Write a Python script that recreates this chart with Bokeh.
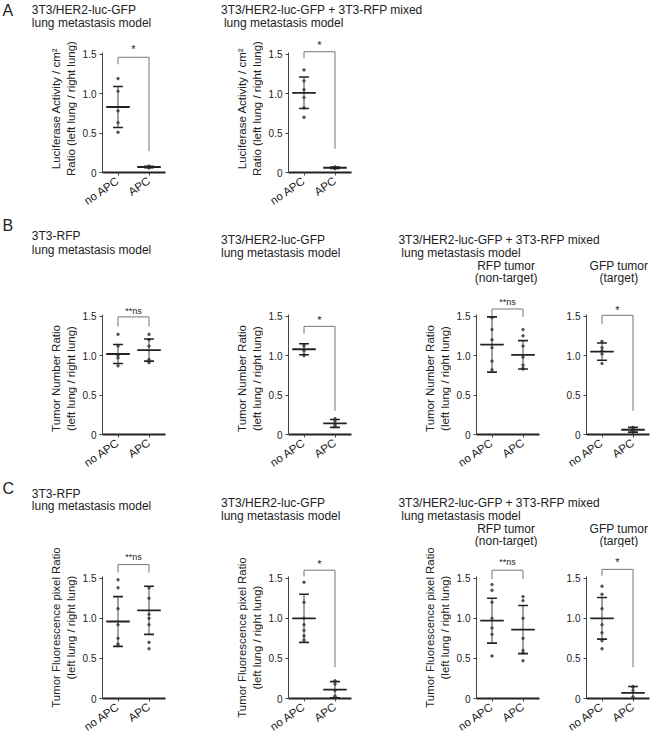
import math
from bokeh.plotting import figure
from bokeh.layouts import column, row
from bokeh.models import Range1d, FixedTicker, LinearAxis
from bokeh.embed import file_html
from bokeh.resources import INLINE
from bokeh.core.properties import value

FONT = "Liberation Sans"
INK = "#222222"

# ---------------- data ----------------
groups = ["no APC", "APC"]
y_ticks = [0, 0.5, 1.0, 1.5]
y_tick_labels = ["0", "0.5", "1.0", "1.5"]

# A: luciferase activity ratio
A_her2_noapc = [1.19, 1.03, 0.78, 0.63, 0.51]
A_her2_apc = [0.08, 0.07, 0.07, 0.06, 0.06]
A_her2_mean = [0.83, 0.07]
A_her2_sd = [0.26, 0.01]
A_her2_bracket = [1.46, 1.37, 0.27, 1.56]

A_mixed_noapc = [1.30, 1.16, 1.05, 0.95, 0.82, 0.70]
A_mixed_apc = [0.07, 0.06, 0.06, 0.05, 0.05]
A_mixed_mean = [1.01, 0.06]
A_mixed_sd = [0.20, 0.01]
A_mixed_bracket = [1.53, 1.45, 0.30, 1.61]

# B: tumor number ratio
B_rfp_noapc = [1.27, 1.12, 1.00, 0.97, 0.87]
B_rfp_apc = [1.27, 1.20, 1.12, 0.95, 0.92, 0.91]
B_rfp_mean = [1.02, 1.07]
B_rfp_sd = [0.12, 0.14]
B_rfp_bracket = [1.49, 1.37, 1.37, 1.57]

B_her2_noapc = [1.14, 1.12, 1.06, 1.01, 1.00]
B_her2_apc = [0.20, 0.17, 0.12, 0.10]
B_her2_mean = [1.08, 0.14]
B_her2_sd = [0.07, 0.05]
B_her2_bracket = [1.37, 1.28, 0.30, 1.45]

B_mixrfp_noapc = [1.48, 1.33, 1.20, 1.10, 0.93, 0.82]
B_mixrfp_apc = [1.33, 1.25, 1.12, 0.98, 0.88, 0.84, 0.83]
B_mixrfp_mean = [1.14, 1.01]
B_mixrfp_sd = [0.35, 0.18]
B_mixrfp_bracket = [1.59, 1.50, 1.49, 1.68]

B_mixgfp_noapc = [1.18, 1.10, 1.06, 1.02, 0.90]
B_mixgfp_apc = [0.09, 0.07, 0.05, 0.03]
B_mixgfp_mean = [1.05, 0.06]
B_mixgfp_sd = [0.11, 0.03]
B_mixgfp_bracket = [1.51, 1.40, 0.30, 1.58]

# C: tumor fluorescence pixel ratio
C_rfp_noapc = [1.48, 1.38, 1.12, 0.92, 0.75, 0.68, 0.66]
C_rfp_apc = [1.38, 1.25, 1.05, 1.00, 0.92, 0.70, 0.62]
C_rfp_mean = [0.96, 1.10]
C_rfp_sd = [0.31, 0.30]
C_rfp_bracket = [1.67, 1.57, 1.57, 1.76]

C_her2_noapc = [1.45, 1.20, 1.00, 0.92, 0.85, 0.78, 0.73]
C_her2_apc = [0.22, 0.18, 0.10, 0.03, 0.02]
C_her2_mean = [1.00, 0.11]
C_her2_sd = [0.30, 0.10]
C_her2_bracket = [1.60, 1.52, 0.39, 1.68]

C_mixrfp_noapc = [1.42, 1.35, 1.20, 1.00, 0.88, 0.80, 0.53]
C_mixrfp_apc = [1.27, 1.22, 1.00, 0.75, 0.60, 0.57, 0.47]
C_mixrfp_mean = [0.97, 0.86]
C_mixrfp_sd = [0.28, 0.30]
C_mixrfp_bracket = [1.60, 1.49, 1.49, 1.70]

C_mixgfp_noapc = [1.40, 1.30, 1.12, 0.92, 0.82, 0.72, 0.62]
C_mixgfp_apc = [0.15, 0.14, 0.10, 0.02, 0.00]
C_mixgfp_mean = [1.00, 0.07]
C_mixgfp_sd = [0.26, 0.08]
C_mixgfp_bracket = [1.61, 1.53, 0.39, 1.70]

# ---------------- geometry ----------------
SX, X0, SY = 0.98, 3, 0.978
def gx(x):
    return min(650, max(0, round((x - X0) * SX)))
def gy(y):
    return round(y * SY)

BANDS = {
    "A": dict(strip=(0, 32), plot=(32, 216), frame_top=36, base=176, ppu=80.7),
    "B": dict(strip=(216, 288), plot=(288, 474), frame_top=292, base=440, ppu=80.7),
    "C": dict(strip=(474, 548), plot=(548, 740), frame_top=549, base=702, ppu=82.0),
}
COLS = [(0, 178, 107), (178, 370, 297), (370, 560, 489), (560, 666, 601)]
FW = 63
PPX = 31.0
XR0 = 0.5
TICK_BORDER = 25
LFW = 1
LINE_GAP = 14


def bare(width, height):
    p = figure(width=width, height=height, x_range=Range1d(0, width),
               y_range=Range1d(0, height), x_axis_location=None, y_axis_location=None,
               toolbar_location=None, output_backend="svg", min_border=0,
               outline_line_color=None)
    p.xgrid.visible = False
    p.ygrid.visible = False
    return p


def make_strip(band, texts):
    t, b = BANDS[band]["strip"]
    top, bot = gy(t), gy(b)
    h = bot - top
    p = bare(650, h)
    for txt, x, y, size, align in texts:
        p.text(x=[(x - X0) * SX], y=[h - (y * SY - top)], text=[txt],
               text_font=value(FONT), text_font_size=size, text_align=align,
               text_baseline="middle", text_color=INK)
    return p


def title_axis(text, standoff, size):
    return LinearAxis(ticker=FixedTicker(ticks=[0.5]), major_label_overrides={0.5: ""},
                      major_label_text_font_size="0px", axis_label=text,
                      axis_line_color=None, major_tick_line_color=None,
                      minor_tick_line_color=None, major_tick_out=0, major_tick_in=0,
                      major_label_standoff=0, axis_label_standoff=max(0, round(standoff)),
                      axis_label_text_font=FONT, axis_label_text_font_size=size,
                      axis_label_text_font_style="normal", axis_label_text_color=INK)


def make_label_fig(lw, ph, yc_top, lines, offs, size):
    yc_top = round(yc_top)
    h = min(yc_top, ph - yc_top) - 1
    p = figure(frame_width=LFW, frame_height=2 * h, min_border_left=lw - LFW,
               min_border_right=0, min_border_top=yc_top - h,
               min_border_bottom=ph - yc_top - h, x_axis_location=None,
               y_axis_location=None, x_range=Range1d(0, 1), y_range=Range1d(0, 1),
               toolbar_location=None, output_backend="svg", outline_line_color=None)
    p.xgrid.visible = False
    p.ygrid.visible = False
    d2 = -(TICK_BORDER + LFW) - offs[1] * SX
    p.add_layout(title_axis(lines[1], d2 - LINE_GAP, size), "left")
    p.add_layout(title_axis(lines[0], 0, size), "left")
    return p


def make_panel(col, band, noapc, apc, means, sds, brk, sig, ylabel=None, ylab_c=0.9,
               ylab_off=(-52, -38), ylab_size="11.5px"):
    fl_ref, fr_ref, ax_ref = COLS[col]
    b = BANDS[band]
    fl, fr, L = gx(fl_ref), gx(fr_ref), gx(ax_ref)
    pt, pb = gy(b["plot"][0]), gy(b["plot"][1])
    ft, base = gy(b["frame_top"]), gy(b["base"])
    fh = base - ft
    ph = pb - pt
    ppu = b["ppu"] * SY

    figs = []
    plot_left = fl
    if ylabel is not None:
        plot_left = L - TICK_BORDER
        yc_top = (base - pt) - ylab_c * ppu
        figs.append(make_label_fig(plot_left - fl, ph, yc_top, ylabel, ylab_off, ylab_size))

    p = figure(frame_width=FW, frame_height=fh,
               min_border_left=L - plot_left, min_border_right=fr - (L + FW),
               min_border_top=ft - pt, min_border_bottom=pb - base,
               x_range=Range1d(XR0, XR0 + FW / PPX), y_range=Range1d(0, fh / ppu),
               toolbar_location=None, output_backend="svg", outline_line_color=None)
    p.xgrid.visible = False
    p.ygrid.visible = False

    # axes
    p.yaxis.ticker = FixedTicker(ticks=y_ticks)
    p.yaxis.major_label_overrides = dict(zip(y_ticks, y_tick_labels))
    p.yaxis.bounds = (0, 1.52)
    p.yaxis.axis_line_color = "#444444"
    p.yaxis.axis_line_width = 1
    p.yaxis.major_tick_line_color = "#444444"
    p.yaxis.major_tick_out = 3
    p.yaxis.major_tick_in = 0
    p.yaxis.minor_tick_line_color = None
    p.yaxis.major_label_text_font = FONT
    p.yaxis.major_label_text_font_size = "10px"
    p.yaxis.major_label_text_color = INK
    p.yaxis.major_label_standoff = 3

    p.xaxis.ticker = FixedTicker(ticks=[1, 2])
    p.xaxis.major_label_overrides = {1: groups[0], 2: groups[1]}
    p.xaxis.major_label_orientation = 0.6
    p.xaxis.axis_line_color = "#222222"
    p.xaxis.axis_line_width = 2
    p.xaxis.major_tick_line_color = "#444444"
    p.xaxis.major_tick_out = 3
    p.xaxis.major_tick_in = 0
    p.xaxis.minor_tick_line_color = None
    p.xaxis.major_label_text_font = FONT
    p.xaxis.major_label_text_font_size = "11.5px"
    p.xaxis.major_label_text_color = INK
    p.xaxis.major_label_standoff = 4

    # individual points
    xs = [1] * len(noapc) + [2] * len(apc)
    ys = list(noapc) + list(apc)
    p.scatter(xs, ys, size=2.5, color="#555555")

    # mean and SD
    gxs = [1, 2]
    lo = [m - s for m, s in zip(means, sds)]
    hi = [m + s for m, s in zip(means, sds)]
    p.segment(x0=gxs, y0=lo, x1=gxs, y1=hi, line_color="#444444", line_width=1)
    p.segment(x0=[g - 0.16 for g in gxs] * 2, y0=hi + lo,
              x1=[g + 0.16 for g in gxs] * 2, y1=hi + lo,
              line_color=INK, line_width=1.6)
    p.segment(x0=[g - 0.38 for g in gxs], y0=means, x1=[g + 0.38 for g in gxs], y1=means,
              line_color=INK, line_width=1.8)

    # significance bracket
    top, lb, rb, ty = brk
    p.line([1, 1, 2, 2], [lb, top, top, rb], line_color="#777777", line_width=1)
    p.text(x=[1.5], y=[ty], text=[sig], text_font=value(FONT),
           text_font_size="11px" if sig == "*" else "9px",
           text_align="center", text_baseline="middle", text_color=INK)
    figs.append(p)
    return figs


LUC = ["Luciferase Activity / cm\u00b2", "Ratio (left lung / right lung)"]
NUM = ["Tumor Number Ratio", "(left lung / right lung)"]
FLU = ["Tumor Fluorescence pixel Ratio", "(left lung / right lung)"]
OFF1 = (-51, -37)
OFF2 = (-55, -41)
OFF3 = (-53, -39)

T = "12px"
stripA = make_strip("A", [
    ("A", 5, 10, "16px", "left"),
    ("3T3/HER2-luc-GFP", 35, 10, T, "left"),
    ("lung metastasis model", 35, 23, T, "left"),
    ("3T3/HER2-luc-GFP + 3T3-RFP mixed", 228, 10, T, "left"),
    ("lung metastasis model", 231, 23, T, "left"),
])
stripB = make_strip("B", [
    ("B", 5, 227, "16px", "left"),
    ("3T3-RFP", 35, 238, T, "left"),
    ("lung metastasis model", 35, 252, T, "left"),
    ("3T3/HER2-luc-GFP", 228, 242, T, "left"),
    ("lung metastasis model", 228, 255, T, "left"),
    ("3T3/HER2-luc-GFP + 3T3-RFP mixed", 409, 242, T, "left"),
    ("lung metastasis model", 412, 255, T, "left"),
    ("RFP tumor", 519, 268, T, "center"),
    ("(non-target)", 519, 281, T, "center"),
    ("GFP tumor", 634, 268, T, "center"),
    ("(target)", 634, 281, T, "center"),
])
stripC = make_strip("C", [
    ("C", 5, 488, "16px", "left"),
    ("3T3-RFP", 35, 493, T, "left"),
    ("lung metastasis model", 35, 506, T, "left"),
    ("3T3/HER2-luc-GFP", 228, 503, T, "left"),
    ("lung metastasis model", 228, 516, T, "left"),
    ("3T3/HER2-luc-GFP + 3T3-RFP mixed", 409, 503, T, "left"),
    ("lung metastasis model", 412, 516, T, "left"),
    ("RFP tumor", 519, 529, T, "center"),
    ("(non-target)", 519, 541, T, "center"),
    ("GFP tumor", 634, 529, T, "center"),
    ("(target)", 634, 541, T, "center"),
])

rowA = (make_panel(0, "A", A_her2_noapc, A_her2_apc, A_her2_mean, A_her2_sd, A_her2_bracket, "*", LUC, 0.85, OFF1)
        + make_panel(1, "A", A_mixed_noapc, A_mixed_apc, A_mixed_mean, A_mixed_sd, A_mixed_bracket, "*", LUC, 0.85, OFF2))

rowB = (make_panel(0, "B", B_rfp_noapc, B_rfp_apc, B_rfp_mean, B_rfp_sd, B_rfp_bracket, "**ns", NUM, 0.70, OFF1)
        + make_panel(1, "B", B_her2_noapc, B_her2_apc, B_her2_mean, B_her2_sd, B_her2_bracket, "*", NUM, 0.70, OFF2)
        + make_panel(2, "B", B_mixrfp_noapc, B_mixrfp_apc, B_mixrfp_mean, B_mixrfp_sd, B_mixrfp_bracket, "**ns", NUM, 0.70, OFF3)
        + make_panel(3, "B", B_mixgfp_noapc, B_mixgfp_apc, B_mixgfp_mean, B_mixgfp_sd, B_mixgfp_bracket, "*"))

rowC = (make_panel(0, "C", C_rfp_noapc, C_rfp_apc, C_rfp_mean, C_rfp_sd, C_rfp_bracket, "**ns", FLU, 0.88, OFF1, "11.4px")
        + make_panel(1, "C", C_her2_noapc, C_her2_apc, C_her2_mean, C_her2_sd, C_her2_bracket, "*", FLU, 0.76, OFF2, "11.4px")
        + make_panel(2, "C", C_mixrfp_noapc, C_mixrfp_apc, C_mixrfp_mean, C_mixrfp_sd, C_mixrfp_bracket, "**ns", FLU, 0.88, OFF3, "11.4px")
        + make_panel(3, "C", C_mixgfp_noapc, C_mixgfp_apc, C_mixgfp_mean, C_mixgfp_sd, C_mixgfp_bracket, "*"))

layout = column(stripA, row(*rowA), stripB, row(*rowB), stripC, row(*rowC))

open("out.html", "w").write(file_html(layout, INLINE))
